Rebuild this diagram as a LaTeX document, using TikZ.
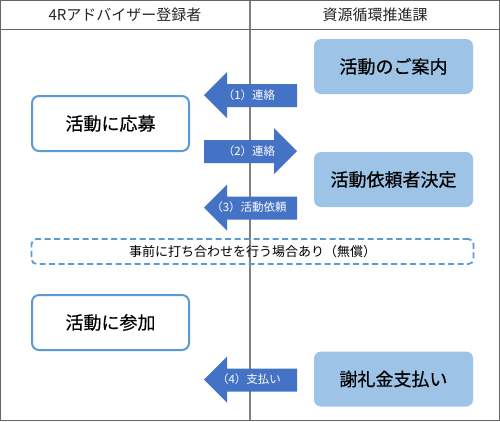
\documentclass[tikz,border=0pt]{standalone}
\usepackage{fontspec}
\setmainfont{Noto Sans CJK JP}
\newfontfamily\boxfont{Noto Sans CJK JP}[FakeBold=0.35]
\begin{document}
\begin{tikzpicture}[x=1pt,y=-1pt,
  lightbox/.style={fill=boxfill,rounded corners=7pt,minimum width=159pt,minimum height=55pt,font=\boxfont\fontsize{18}{21}\selectfont},
  whitebox/.style={draw=boxline,line width=2pt,fill=white,rounded corners=7pt,minimum width=157pt,minimum height=55pt,font=\boxfont\fontsize{18}{21}\selectfont},
  arrowfill/.style={fill=arrowblue},
  arrowlabel/.style={text=white,font=\fontsize{11.5}{13}\selectfont},
  headtext/.style={font=\fontsize{15}{18}\selectfont,text=black!85},
  frame/.style={draw=black!60,line width=0.8pt},
  divider/.style={draw=black!50,line width=1.2pt}]
\definecolor{boxfill}{HTML}{9DC3E6}
\definecolor{boxline}{HTML}{5B9BD5}
\definecolor{arrowblue}{HTML}{4472C4}
\useasboundingbox (0,0) rectangle (500,421);
% frame and lanes
\coordinate (tl) at (0.5,0.5);
\coordinate (br) at (499.5,420.5);
\coordinate (hl) at (0.5,29);
\coordinate (hr) at (499.5,29);
\coordinate (vt) at (250,0.5);
\coordinate (vb) at (250,420.5);
\fill[white] (0,0) rectangle (500,421);
\draw[divider] (vt) -- (vb);
\draw[frame] (hl) -- (hr);
\draw[frame] (tl) rectangle (br);
\node[headtext] (h1) at (125,15) {4Rアドバイザー登録者};
\node[headtext] (h2) at (375,15) {資源循環推進課};
% boxes
\node[lightbox] (b1) at (393.5,66.5) {活動のご案内};
\node[whitebox] (b2) at (110.5,123.5) {活動に応募};
\node[lightbox] (b3) at (393.5,179.5) {活動依頼者決定};
\node[whitebox] (b5) at (110.5,322.5) {活動に参加};
\node[lightbox] (b6) at (393.5,379) {謝礼金支払い};
\node[draw=boxline,line width=1.8pt,dash pattern=on 6pt off 3.5pt,rounded corners=5pt,
      minimum width=442pt,minimum height=25pt,font=\fontsize{13}{15}\selectfont] (b4) at (252.5,251.5)
      {事前に打ち合わせを行う場合あり（無償）};
% block arrows
% (1) left
\fill[arrowfill] (204,95) -- (227,72) -- (227,84) -- (297,84) -- (297,107) -- (227,107) -- (227,118) -- cycle;
\node[arrowlabel] (a1) at (249,95) {（1）連絡};
% (2) right
\fill[arrowfill] (297,151) -- (274,128) -- (274,140) -- (204,140) -- (204,163) -- (274,163) -- (274,174) -- cycle;
\node[arrowlabel] (a2) at (249,151) {（2）連絡};
% (3) left
\fill[arrowfill] (204,207.5) -- (227,184.5) -- (227,196.5) -- (297,196.5) -- (297,219.5) -- (227,219.5) -- (227,230.5) -- cycle;
\node[arrowlabel] (a3) at (249,207.5) {（3）活動依頼};
% (4) left
\fill[arrowfill] (204,379.5) -- (227,356.5) -- (227,368.5) -- (297,368.5) -- (297,391.5) -- (227,391.5) -- (227,402.5) -- cycle;
\node[arrowlabel] (a4) at (249,379.5) {（4）支払い};
\end{tikzpicture}
\end{document}
